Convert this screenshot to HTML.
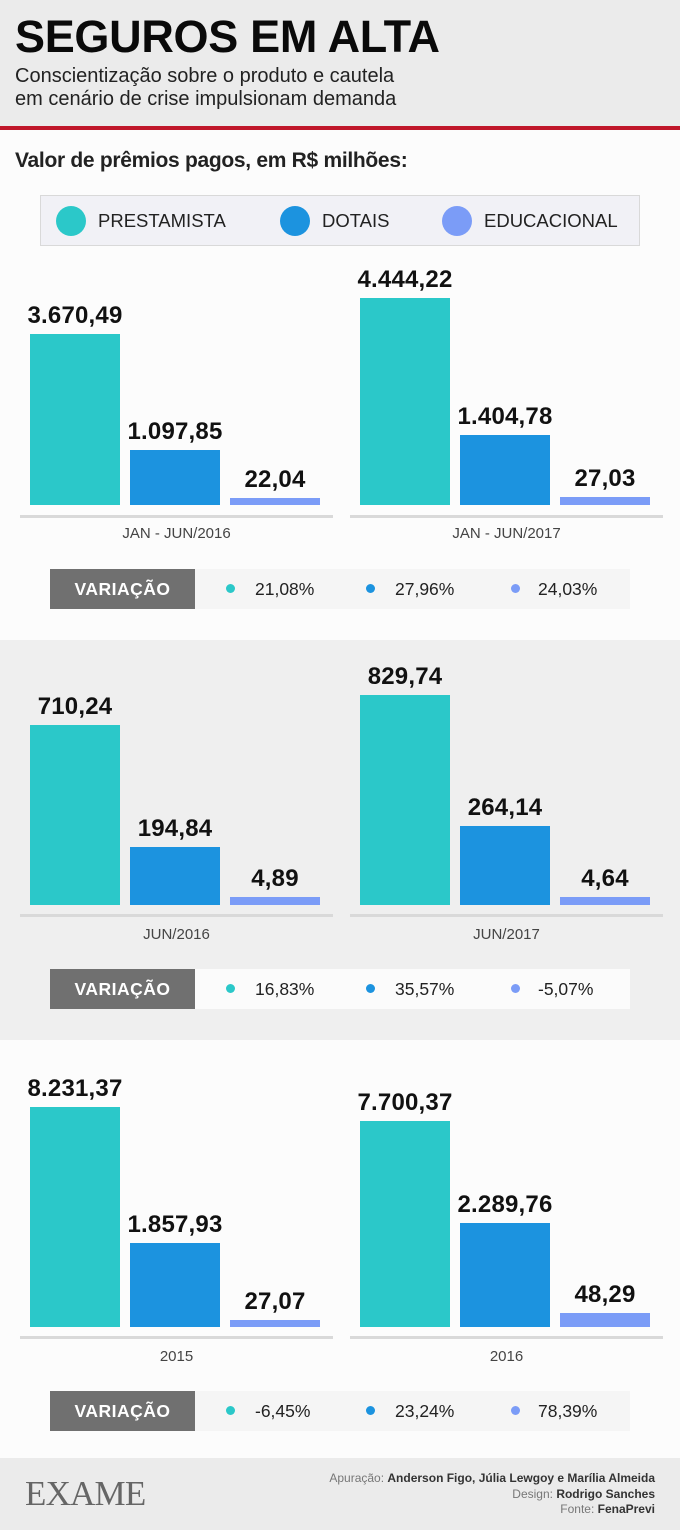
<!DOCTYPE html>
<html><head><meta charset="utf-8">
<style>
*{margin:0;padding:0;box-sizing:border-box}
body{width:680px;height:1530px;position:relative;background:#fcfcfc;font-family:"Liberation Sans",sans-serif;overflow:hidden}
div{position:absolute}
.b{font-weight:bold}
.v{font-size:24px;font-weight:bold;color:#111;text-align:center;width:160px;line-height:24px;letter-spacing:0.2px}
.p{background:#2bc8c9}.d{background:#1c93df}.e{background:#7b9cf7}
.ax{height:3px;background:#d9d9d9}
.lab{font-size:15px;color:#444;text-align:center;width:313px}
.vr{height:40px;background:#f5f5f5;left:195px;width:435px}
.vb{height:40px;left:50px;width:145px;background:#707070;color:#fff;font-weight:bold;font-size:17.5px;text-align:center;line-height:40px;letter-spacing:0.5px}
.dot{width:9px;height:9px;border-radius:50%}
.pc{font-size:17.5px;color:#222;line-height:18px}
</style></head><body>
<div style="left:0;top:0;width:680px;height:126px;background:#ebebeb"></div>
<div style="left:0;top:126px;width:680px;height:4px;background:#c0172a"></div>
<div class="b" style="left:15px;top:13px;font-size:45px;line-height:48px;color:#0a0a0a;letter-spacing:-0.3px">SEGUROS EM ALTA</div>
<div style="left:15px;top:65px;font-size:20px;line-height:23px;color:#222">Conscientização sobre o produto e cautela<br>em cenário de crise impulsionam demanda</div>
<div class="b" style="left:15px;top:149px;font-size:21px;color:#222;letter-spacing:-0.3px">Valor de prêmios pagos, em R$ milhões:</div>
<div style="left:40px;top:195px;width:600px;height:51px;background:#f1f1f6;border:1px solid #d9d9d9"></div>
<div class="dot p" style="left:56px;top:206px;width:30px;height:30px"></div>
<div style="left:98px;top:210px;font-size:18.5px;color:#222">PRESTAMISTA</div>
<div class="dot d" style="left:280px;top:206px;width:30px;height:30px"></div>
<div style="left:322px;top:210px;font-size:18.5px;color:#222">DOTAIS</div>
<div class="dot e" style="left:442px;top:206px;width:30px;height:30px"></div>
<div style="left:484px;top:210px;font-size:18.5px;color:#222">EDUCACIONAL</div>

<!-- section 1 -->
<div class="p" style="left:30px;top:334px;width:90px;height:171px"></div>
<div class="d" style="left:130px;top:450px;width:90px;height:55px"></div>
<div class="e" style="left:230px;top:498px;width:90px;height:7px"></div>
<div class="v" style="left:-5px;top:304px">3.670,49</div>
<div class="v" style="left:95px;top:420px">1.097,85</div>
<div class="v" style="left:195px;top:468px">22,04</div>
<div class="p" style="left:360px;top:298px;width:90px;height:207px"></div>
<div class="d" style="left:460px;top:435px;width:90px;height:70px"></div>
<div class="e" style="left:560px;top:497px;width:90px;height:8px"></div>
<div class="v" style="left:325px;top:268px">4.444,22</div>
<div class="v" style="left:425px;top:405px">1.404,78</div>
<div class="v" style="left:525px;top:467px">27,03</div>
<div class="ax" style="left:20px;top:515px;width:313px"></div>
<div class="ax" style="left:350px;top:515px;width:313px"></div>
<div class="lab" style="left:20px;top:525px">JAN - JUN/2016</div>
<div class="lab" style="left:350px;top:525px">JAN - JUN/2017</div>
<div class="vr" style="top:569px"></div><div class="vb" style="top:569px">VARIAÇÃO</div>
<div class="dot p" style="left:226px;top:584px"></div><div class="pc" style="left:255px;top:580px">21,08%</div>
<div class="dot d" style="left:366px;top:584px"></div><div class="pc" style="left:395px;top:580px">27,96%</div>
<div class="dot e" style="left:511px;top:584px"></div><div class="pc" style="left:538px;top:580px">24,03%</div>

<!-- section 2 -->
<div style="left:0;top:640px;width:680px;height:400px;background:#efefef"></div>
<div class="p" style="left:30px;top:725px;width:90px;height:180px"></div>
<div class="d" style="left:130px;top:847px;width:90px;height:58px"></div>
<div class="e" style="left:230px;top:897px;width:90px;height:8px"></div>
<div class="v" style="left:-5px;top:695px">710,24</div>
<div class="v" style="left:95px;top:817px">194,84</div>
<div class="v" style="left:195px;top:867px">4,89</div>
<div class="p" style="left:360px;top:695px;width:90px;height:210px"></div>
<div class="d" style="left:460px;top:826px;width:90px;height:79px"></div>
<div class="e" style="left:560px;top:897px;width:90px;height:8px"></div>
<div class="v" style="left:325px;top:665px">829,74</div>
<div class="v" style="left:425px;top:796px">264,14</div>
<div class="v" style="left:525px;top:867px">4,64</div>
<div class="ax" style="left:20px;top:914px;width:313px"></div>
<div class="ax" style="left:350px;top:914px;width:313px"></div>
<div class="lab" style="left:20px;top:926px">JUN/2016</div>
<div class="lab" style="left:350px;top:926px">JUN/2017</div>
<div class="vr" style="top:969px;background:#fbfbfb"></div><div class="vb" style="top:969px">VARIAÇÃO</div>
<div class="dot p" style="left:226px;top:984px"></div><div class="pc" style="left:255px;top:980px">16,83%</div>
<div class="dot d" style="left:366px;top:984px"></div><div class="pc" style="left:395px;top:980px">35,57%</div>
<div class="dot e" style="left:511px;top:984px"></div><div class="pc" style="left:538px;top:980px">-5,07%</div>

<!-- section 3 -->
<div class="p" style="left:30px;top:1107px;width:90px;height:220px"></div>
<div class="d" style="left:130px;top:1243px;width:90px;height:84px"></div>
<div class="e" style="left:230px;top:1320px;width:90px;height:7px"></div>
<div class="v" style="left:-5px;top:1077px">8.231,37</div>
<div class="v" style="left:95px;top:1213px">1.857,93</div>
<div class="v" style="left:195px;top:1290px">27,07</div>
<div class="p" style="left:360px;top:1121px;width:90px;height:206px"></div>
<div class="d" style="left:460px;top:1223px;width:90px;height:104px"></div>
<div class="e" style="left:560px;top:1313px;width:90px;height:14px"></div>
<div class="v" style="left:325px;top:1091px">7.700,37</div>
<div class="v" style="left:425px;top:1193px">2.289,76</div>
<div class="v" style="left:525px;top:1283px">48,29</div>
<div class="ax" style="left:20px;top:1336px;width:313px"></div>
<div class="ax" style="left:350px;top:1336px;width:313px"></div>
<div class="lab" style="left:20px;top:1348px">2015</div>
<div class="lab" style="left:350px;top:1348px">2016</div>
<div class="vr" style="top:1391px"></div><div class="vb" style="top:1391px">VARIAÇÃO</div>
<div class="dot p" style="left:226px;top:1406px"></div><div class="pc" style="left:255px;top:1402px">-6,45%</div>
<div class="dot d" style="left:366px;top:1406px"></div><div class="pc" style="left:395px;top:1402px">23,24%</div>
<div class="dot e" style="left:511px;top:1406px"></div><div class="pc" style="left:538px;top:1402px">78,39%</div>

<!-- footer -->
<div style="left:0;top:1458px;width:680px;height:72px;background:#ebebeb"></div>
<div style="left:25px;top:1476px;font-family:'Liberation Serif',serif;font-size:35px;color:#666;line-height:36px;letter-spacing:-0.8px">EXAME</div>
<div style="right:25px;top:1471px;font-size:12px;line-height:15.5px;color:#777;text-align:right">Apuração: <span style="color:#333;font-weight:bold">Anderson Figo, Júlia Lewgoy e Marília Almeida</span><br>Design: <span style="color:#333;font-weight:bold">Rodrigo Sanches</span><br>Fonte: <span style="color:#333;font-weight:bold">FenaPrevi</span></div>
</body></html>
